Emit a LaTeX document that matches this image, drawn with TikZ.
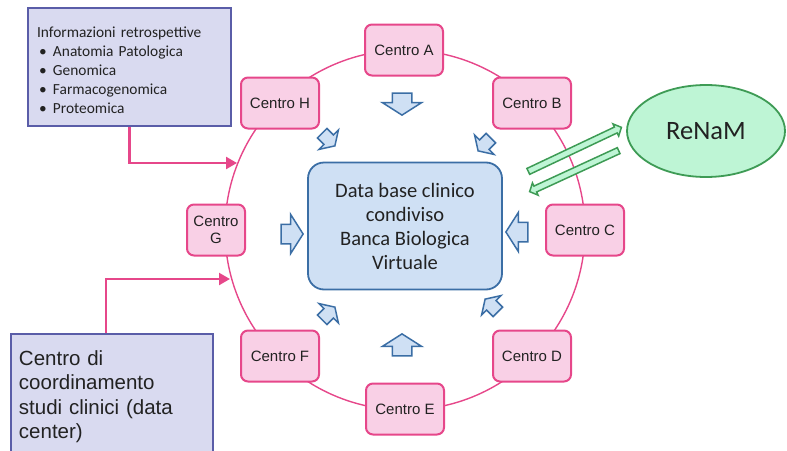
\documentclass[tikz,border=0pt]{standalone}
\usepackage{fontspec}
\setmainfont{Carlito}
\newfontfamily\arialfont{Liberation Sans}
\usetikzlibrary{shapes.arrows,shapes.geometric,arrows.meta}
\definecolor{pinkline}{HTML}{E6478A}
\definecolor{pinkfill}{HTML}{F9D0E6}
\definecolor{dbfill}{HTML}{CFE0F4}
\definecolor{dbline}{HTML}{3B6EA5}
\definecolor{infofill}{HTML}{D9DAF0}
\definecolor{infoline}{HTML}{5A5DA8}
\definecolor{renfill}{HTML}{BEF5D5}
\definecolor{renline}{HTML}{3E9B55}
\definecolor{txt}{HTML}{222222}
\tikzset{
  centro/.style={draw=pinkline, fill=pinkfill, line width=2pt, rounded corners=7pt,
    minimum width=78pt, minimum height=51pt, align=center, text=txt,
    font=\arialfont\fontsize{15}{17}\selectfont},
  inward/.style={single arrow, draw=dbline, fill=dbfill, line width=1.5pt, inner xsep=0pt,
    inner ysep=9pt, minimum height=22pt, single arrow head extend=10pt, single arrow tip angle=115},
  inwardsmall/.style={inward, inner ysep=6pt, minimum height=18pt, single arrow head extend=7pt},
  pinkarrow/.style={draw=pinkline, line width=2.3pt, -{Triangle[length=11pt,width=12pt]}},
  renarrow/.style={single arrow, draw=renline, fill=renfill, line width=1.5pt, inner xsep=0pt,
    inner ysep=2.5pt, single arrow head extend=3.5pt, single arrow tip angle=95,
    sloped, allow upside down}
}
\begin{document}
\begin{tikzpicture}[x=1pt,y=-1pt]
    \useasboundingbox (0,0) rectangle (787,450);
    % ring of centres
    \draw[pinkline, line width=1.4pt] (405,230) circle[radius=180pt];
    \node[centro] (cA) at (404,50) {Centro A};
    \node[centro] (cB) at (532,103) {Centro B};
    \node[centro] (cC) at (585,230) {Centro C};
    \node[centro] (cD) at (532,356) {Centro D};
    \node[centro] (cE) at (405,409) {Centro E};
    \node[centro] (cF) at (280,356) {Centro F};
    \node[centro, minimum width=58pt] (cG) at (216,230) {Centro\\G};
    \node[centro] (cH) at (280,103) {Centro H};
    % shared data base
    \node[draw=dbline, fill=dbfill, line width=1.8pt, rounded corners=16pt, minimum width=194pt,
      minimum height=127pt, align=center, text=txt, font=\fontsize{20.5}{24}\selectfont]
      (db) at (405,226) {Data base clinico\\condiviso\\Banca Biologica\\Virtuale};
    % arrows into the data base
    \node[inward, rotate=-90] (aA) at (402,101) {};
    \node[inward, rotate=180] (aC) at (520,232) {};
    \node[inward, rotate=90] (aE) at (402,348) {};
    \node[inward] (aG) at (289,234) {};
    \node[inwardsmall, rotate=-135] (aB) at (486,143) {};
    \node[inwardsmall, rotate=135] (aD) at (493,307) {};
    \node[inwardsmall, rotate=45] (aF) at (327,315) {};
    \node[inwardsmall, rotate=-45] (aH) at (327,138) {};
    % ReNaM
    \node[ellipse, draw=renline, fill=renfill, line width=1.8pt, minimum width=158pt,
      minimum height=92pt, text=txt, font=\fontsize{26.5}{30}\selectfont] (renam) at (706,131) {ReNaM};
    \coordinate (g1) at (527,172);
    \coordinate (g2) at (620,128);
    \coordinate (g3) at (620,150);
    \coordinate (g4) at (531,191);
    \path (g1) -- node[renarrow, minimum height=103pt] (rOut) {} (g2);
    \path (g3) -- node[renarrow, minimum height=98pt] (rIn) {} (g4);
    % side boxes
    \node[draw=infoline, fill=infofill, line width=2pt, anchor=north west, minimum width=203pt,
      minimum height=118pt, text width=185pt, inner xsep=9pt, align=left, text=txt,
      font=\fontsize{15.4}{19}\selectfont]
      (info) at (27,7) {\rule{0pt}{17pt}Informazioni retrospettive\\
      \hspace{2pt}\makebox[14pt][l]{\textbullet}Anatomia Patologica\\
      \hspace{2pt}\makebox[14pt][l]{\textbullet}Genomica\\
      \hspace{2pt}\makebox[14pt][l]{\textbullet}Farmacogenomica\\
      \hspace{2pt}\makebox[14pt][l]{\textbullet}Proteomica};
    \node[draw=infoline, fill=infofill, line width=2pt, anchor=north west, minimum width=202pt,
      minimum height=125pt, text width=186pt, inner xsep=8pt, align=left, text=txt,
      font=\arialfont\fontsize{20.5}{24.5}\selectfont]
      (coord) at (10,333) {Centro di\\coordinamento\\studi clinici (data\\center)};
    \coordinate (hin) at (237,163);
    \coordinate (cin) at (230,279);
    \draw[pinkarrow] (info) |- (hin);
    \draw[pinkarrow] ([xshift=-6pt]coord.north) |- (cin);
\end{tikzpicture}
\end{document}
